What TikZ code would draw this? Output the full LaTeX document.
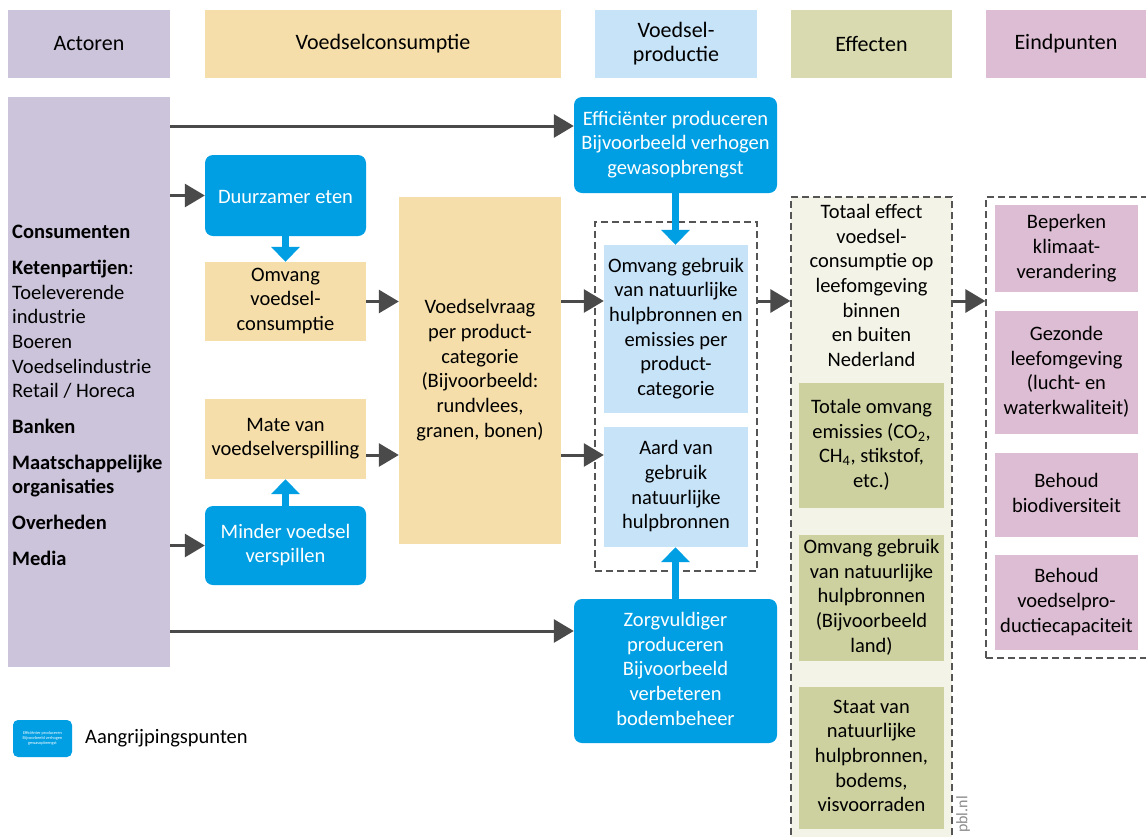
\documentclass[tikz,border=0pt]{standalone}
\usepackage{fontspec}
\setmainfont{Carlito}
\usetikzlibrary{arrows.meta}
\definecolor{lav}{HTML}{CCC4DB}
\definecolor{wheat}{HTML}{F5DEA9}
\definecolor{lblue}{HTML}{C7E3F8}
\definecolor{pblue}{HTML}{009FE3}
\definecolor{olive}{HTML}{D9DAB0}
\definecolor{green}{HTML}{CDD09F}
\definecolor{effbg}{HTML}{F3F3E7}
\definecolor{pink}{HTML}{DDBDD3}
\definecolor{agray}{HTML}{4A4A4A}
\definecolor{dgray}{HTML}{555555}
\newcommand\fmain{\fontsize{20.5}{24.7}\selectfont}
\newcommand\fhead{\fontsize{22}{24}\selectfont}
\newcommand\mystrut{\rule[-4.4pt]{0pt}{24.7pt}}
\begin{document}
\begin{tikzpicture}[x=1pt,y=-1pt,
  box/.style={inner sep=0pt, align=center, font=\fmain, draw=none,
    execute at begin node=\mystrut, execute at end node=\mystrut},
  hbox/.style={inner sep=0pt, align=center, font=\fhead, draw=none, minimum height=68pt},
  bluebox/.style={box, fill=pblue, text=white, rounded corners=8pt},
  wbox/.style={box, fill=wheat},
  lbbox/.style={box, fill=lblue},
  gbox/.style={box, fill=green, minimum width=145pt},
  pbox/.style={box, fill=pink, minimum width=143pt},
  dbox/.style={inner sep=0pt, draw=dgray, line width=1.2pt, dash pattern=on 7pt off 4pt},
  darr/.style={draw=agray, line width=3pt, -{Triangle[length=20pt,width=23pt]}},
  barr/.style={draw=pblue, line width=7pt, -{Triangle[length=15pt,width=28pt]}}
]
\clip (0,0) rectangle (1146,836);
\fill[white] (0,0) rectangle (1146,836);

% headers
\node[hbox, fill=lav, minimum width=162pt] (hact) at (89,44) {Actoren};
\node[hbox, fill=wheat, minimum width=356pt] (hcon) at (383,44) {Voedselconsumptie};
\node[hbox, fill=lblue, minimum width=162pt] (hpro) at (676,44) {Voedsel-\\productie};
\node[hbox, fill=olive, minimum width=161pt] (heff) at (871.5,44) {Effecten};
\node[hbox, fill=pink, minimum width=160pt] (hend) at (1066,44) {Eindpunten};

% actors
\node[inner sep=0pt, fill=lav, minimum width=162pt, minimum height=570pt] (act) at (89,382) {};
\node[inner sep=0pt, align=left, font=\fmain, anchor=west] (acttxt) at (12,397)
  {\strut\textbf{Consumenten}\\[10.9pt]
   \textbf{Ketenpartijen}:\\
   Toeleverende\\
   industrie\\
   Boeren\\
   Voedselindustrie\\
   Retail / Horeca\\[10.9pt]
   \textbf{Banken}\\[10.9pt]
   \textbf{Maatschappelijke}\\
   \textbf{organisaties}\\[10.9pt]
   \textbf{Overheden}\\[10.9pt]
   \textbf{Media}\strut};

% consumption column
\node[bluebox, minimum width=161pt, minimum height=81pt] (duur) at (285.5,195.5) {Duurzamer eten};
\node[wbox, minimum width=161pt, minimum height=79pt] (omvc) at (285.5,301.5) {Omvang\\voedsel-\\consumptie};
\node[wbox, minimum width=161pt, minimum height=80pt] (mate) at (285.5,439) {Mate van\\voedselverspilling};
\node[bluebox, minimum width=161pt, minimum height=79pt] (minder) at (285.5,545.5) {Minder voedsel\\verspillen};
\node[wbox, minimum width=162pt, minimum height=347pt] (vv) at (480,370.5) {Voedselvraag\\per product-\\categorie\\(Bijvoorbeeld:\\rundvlees,\\granen, bonen)};

% production column
\node[bluebox, minimum width=203pt, minimum height=96pt] (eff1) at (675.5,145) {Efficiënter produceren\\Bijvoorbeeld verhogen\\gewasopbrengst};
\node[dbox, minimum width=162pt, minimum height=349pt] (prodbox) at (676,396.5) {};
\node[lbbox, minimum width=144pt, minimum height=168pt] (omg) at (676,329) {Omvang gebruik\\van natuurlijke\\hulpbronnen en\\emissies per\\product-\\categorie};
\node[lbbox, minimum width=144pt, minimum height=120pt] (aard) at (676,487) {Aard van\\gebruik\\natuurlijke\\hulpbronnen};
\node[bluebox, minimum width=203pt, minimum height=144pt] (zorg) at (675.5,671) {Zorgvuldiger\\produceren\\Bijvoorbeeld\\verbeteren\\bodembeheer};

% effects column
\node[dbox, fill=effbg, minimum width=161pt, minimum height=653pt] (effbox) at (871.5,523.5) {};
\node[box] (efftxt) at (871.5,287.5) {Totaal effect\\voedsel-\\consumptie op\\leefomgeving\\binnen\\en buiten\\Nederland};
\node[gbox, minimum height=125pt] (g1) at (871.5,445.5) {Totale omvang\\emissies (CO\textsubscript{2},\\CH\textsubscript{4}, stikstof,\\etc.)};
\node[gbox, minimum height=126pt] (g2) at (871.5,598) {Omvang gebruik\\van natuurlijke\\hulpbronnen\\(Bijvoorbeeld\\land)};
\node[gbox, minimum height=142pt] (g3) at (871.5,758) {Staat van\\natuurlijke\\hulpbronnen,\\bodems,\\visvoorraden};

% endpoints column
\node[dbox, minimum width=164pt, minimum height=461pt] (endbox) at (1068,427.5) {};
\node[pbox, minimum height=87pt] (p1) at (1066.5,248.5) {Beperken\\klimaat-\\verandering};
\node[pbox, minimum height=123pt] (p2) at (1066.5,372.5) {Gezonde\\leefomgeving\\(lucht- en\\waterkwaliteit)};
\node[pbox, minimum height=84pt] (p3) at (1066.5,495) {Behoud\\biodiversiteit};
\node[pbox, minimum height=95pt] (p4) at (1066.5,602.5) {Behoud\\voedselpro-\\ductiecapaciteit};

% legend
\node[inner sep=0pt, fill=pblue, text=white, rounded corners=5pt, minimum width=59pt, minimum height=37pt,
  align=center, font=\fontsize{4.3}{5.2}\selectfont] (leg) at (42.5,738.5) {Efficiënter produceren\\Bijvoorbeeld verhogen\\gewasopbrengst};
\node[inner sep=0pt, font=\fmain, anchor=west] (legtxt) at (85,738) {Aangrijpingspunten};
\node[inner sep=0pt, font=\fontsize{16}{18}\selectfont, text=black!45, rotate=90, anchor=west] (pbl) at (963,833) {pbl.nl};

% dark arrows
\draw[darr] (act.east |- 0,126) -- (eff1.west |- 0,126);
\draw[darr] (act.east |- duur.west) -- (duur.west);
\draw[darr] (act.east |- minder.west) -- (minder.west);
\draw[darr] (act.east |- 0,631) -- (zorg.west |- 0,631);
\draw[darr] (omvc.east) -- (vv.west |- omvc.east);
\draw[darr] (mate.east |- 0,455) -- (vv.west |- 0,455);
\draw[darr] (vv.east |- 0,301) -- (omg.west |- 0,301);
\draw[darr] (vv.east |- 0,455) -- (aard.west |- 0,455);
\draw[darr] (prodbox.east |- 0,301) -- (effbox.west |- 0,301);
\draw[darr] (effbox.east |- 0,301) -- (endbox.west |- 0,301);

% blue arrows
\draw[barr] (duur.south) -- (omvc.north);
\draw[barr] (minder.north) -- (mate.south);
\draw[barr] (eff1.south) -- (eff1.south |- omg.north);
\draw[barr] (zorg.north) -- (zorg.north |- aard.south);
\end{tikzpicture}
\end{document}
